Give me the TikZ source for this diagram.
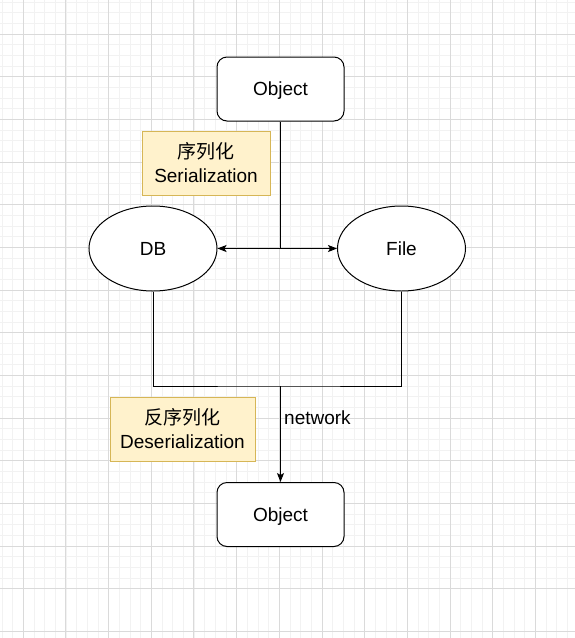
\documentclass[tikz,border=0pt]{standalone}
\usepackage{fontspec}
\setmainfont{Liberation Sans}
\newfontfamily\cjk{Noto Sans CJK SC}
\usetikzlibrary{arrows.meta,shapes.geometric}
\definecolor{gridminor}{RGB}{242,242,242}
\definecolor{gridmajor}{RGB}{218,218,218}
\definecolor{notefill}{RGB}{255,242,204}
\definecolor{notedraw}{RGB}{214,182,86}
\tikzset{
  objbox/.style={draw=black, line width=1pt, rounded corners=10pt, fill=white,
    minimum width=127pt, minimum height=64pt, inner sep=0pt,
    text height=13.6pt, text depth=0pt,
    font=\fontsize{19}{23}\selectfont},
  dbell/.style={draw=black, line width=1pt, ellipse, fill=white,
    minimum width=128pt, minimum height=85pt, inner sep=0pt,
    font=\fontsize{19}{23}\selectfont},
  notebox/.style={draw=notedraw, line width=1pt, fill=notefill,
    minimum height=64pt, inner sep=0pt, align=center,
    font=\fontsize{19}{24}\selectfont},
  conn/.style={line width=1pt, draw=black},
  arr/.style={conn, -{Stealth[length=9pt,width=7pt,inset=2pt]}},
}
\begin{document}
\begin{tikzpicture}[x=1pt,y=-1pt]
\fill[white] (0,0) rectangle (575,638);
\useasboundingbox (0,0) rectangle (575,638);
% grid
\foreach \i in {0,...,54} {
  \pgfmathsetmacro\gx{2+10.667*\i}
  \draw[gridminor, line width=1pt] (\gx,0) -- (\gx,638);
  \draw[gridminor, line width=1pt] (0,\gx) -- (575,\gx);
}
\foreach \i in {0,...,14} {
  \pgfmathsetmacro\gx{23.33+42.667*\i}
  \pgfmathsetmacro\gy{34+42.667*\i}
  \draw[gridmajor, line width=1pt] (\gx,0) -- (\gx,638);
  \draw[gridmajor, line width=1pt] (0,\gy) -- (575,\gy);
}
\node[objbox] (o1) at (280.5,89) {Object};
\node[objbox] (o2) at (280.5,514.5) {Object};
\node[dbell] (db) at (153,248.5) {DB};
\node[dbell] (file) at (401.5,248.5) {File};
\node[notebox, minimum width=128pt] (n1) at (206,163) {{\cjk 序列化}\\Serialization};
\node[notebox, minimum width=145pt] (n2) at (182.5,429) {{\cjk 反序列化}\\Deserialization};
\coordinate (j1) at (280.5,248.5);
\coordinate (j2) at (280.5,386);
\draw[conn] (o1.south) -- (j1);
\draw[arr] (j1) -- (db.east);
\draw[arr] (j1) -- (file.west);
\draw[conn] (db.south) |- (j2) -| (file.south);
\draw[arr] (j2) -- (o2.north);
\node[anchor=west, inner sep=0pt, font=\fontsize{19}{23}\selectfont] (net) at (284,418) {network};
\end{tikzpicture}
\end{document}
